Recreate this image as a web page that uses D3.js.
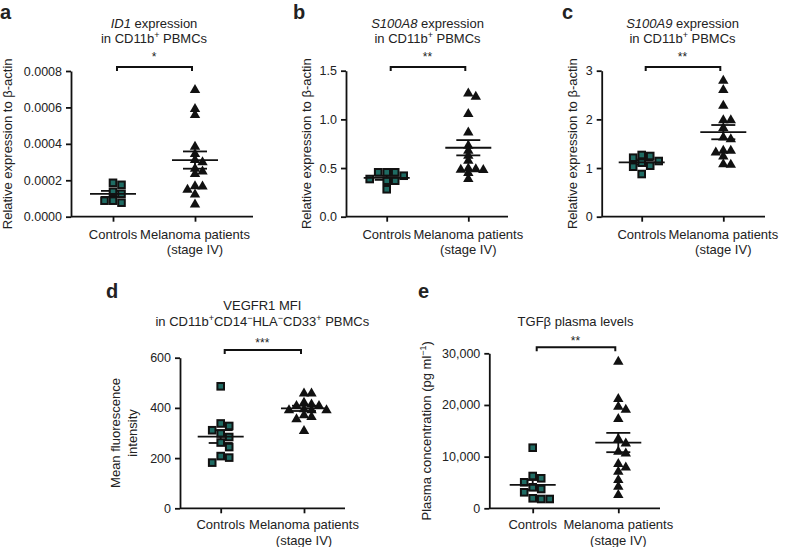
<!DOCTYPE html>
<html>
<head>
<meta charset="utf-8">
<script src="https://cdn.jsdelivr.net/npm/d3@7"></script>
<style>
body{margin:0;background:#fff;}
text{font-family:"Liberation Sans",Arial,sans-serif;fill:#222;}
</style>
</head>
<body>
<script>
// values
const categories = ["Controls", "Melanoma patients"];
const categoryLines = [["Controls"], ["Melanoma patients", "(stage IV)"]];

const id1Controls = [0.000186, 0.000175, 0.000137, 0.000126, 0.000088, 0.000077, 0.000088];
const id1Melanoma = [0.00070, 0.000596, 0.000563, 0.000389, 0.000349, 0.000316, 0.000303, 0.000267, 0.000252, 0.000239, 0.000172, 0.00017, 0.000152, 0.000126, 0.000071];

const s100a8Controls = [0.456, 0.456, 0.456, 0.421, 0.387, 0.37, 0.37, 0.282];
const s100a8Melanoma = [1.274, 1.24, 1.063, 0.874, 0.737, 0.686, 0.634, 0.583, 0.504, 0.497, 0.49, 0.487, 0.456, 0.395];

const s100a9Controls = [1.268, 1.247, 1.212, 1.144, 1.11, 1.048, 1.027, 0.877];
const s100a9Melanoma = [2.81, 2.618, 2.295, 2.0, 2.0, 1.837, 1.644, 1.61, 1.37, 1.37, 1.336, 1.253, 1.096, 1.083];

const vegfrControls = [486, 338, 328, 311, 298, 284, 262, 244, 208, 202, 182];
const vegfrMelanoma = [461, 461, 424, 417, 411, 411, 398, 394, 394, 394, 374, 367, 358, 311];

const tgfControls = [11730, 6251, 5806, 5032, 4064, 3735, 3097, 1935, 1800, 1800];
const tgfMelanoma = [28500, 21290, 19800, 19220, 17420, 13550, 12700, 11090, 10760, 8710, 8050, 7220, 5610, 4320, 2710];

const id1Ticks = [0, 0.0002, 0.0004, 0.0006, 0.0008];
const s100a8Ticks = [0, 0.5, 1.0, 1.5];
const s100a9Ticks = [0, 1, 2, 3];
const vegfrTicks = [0, 200, 400, 600];
const tgfTicks = [0, 10000, 20000, 30000];

const W = 788, H = 547;
const svg = d3.select("body").append("svg").attr("width", W).attr("height", H);

const teal = "#1f6b63";

const panels = [
  {label:"a", lx:0, ly:18.5, x0:71, w:182, off:42, step:82, top:71, bottom:216.7,
   ticks:id1Ticks, fmt:d3.format(".4f"), data:[id1Controls, id1Melanoma], stars:"*",
   title:[[{t:"ID1", i:true},{t:" expression"}],[{t:"in CD11b"},{t:"+", s:true},{t:" PBMCs"}]],
   titleY:[28,43], starY:61, brY:67,
   ylab:[[{t:"Relative expression to β-actin"}]], ylabX:[12], catY:[238.5,254]},
  {label:"b", lx:293, ly:18.5, x0:346, w:162, off:40.7, step:81.6, top:70.7, bottom:216.7,
   ticks:s100a8Ticks, fmt:d3.format(".1f"), data:[s100a8Controls, s100a8Melanoma], stars:"**",
   title:[[{t:"S100A8", i:true},{t:" expression"}],[{t:"in CD11b"},{t:"+", s:true},{t:" PBMCs"}]],
   titleY:[28,43], starY:61, brY:67,
   ylab:[[{t:"Relative expression to β-actin"}]], ylabX:[311], catY:[238.5,254]},
  {label:"c", lx:562, ly:18.5, x0:601.7, w:163.3, off:40, step:81.6, top:70.7, bottom:216.7,
   ticks:s100a9Ticks, fmt:d3.format("d"), data:[s100a9Controls, s100a9Melanoma], stars:"**",
   title:[[{t:"S100A9", i:true},{t:" expression"}],[{t:"in CD11b"},{t:"+", s:true},{t:" PBMCs"}]],
   titleY:[28,43], starY:61, brY:67,
   ylab:[[{t:"Relative expression to β-actin"}]], ylabX:[577], catY:[238.5,254]},
  {label:"d", lx:106, ly:298, x0:180, w:165, off:40.7, step:83.3, top:357.7, bottom:508.3,
   ticks:vegfrTicks, fmt:d3.format("d"), data:[vegfrControls, vegfrMelanoma], stars:"***",
   title:[[{t:"VEGFR1 MFI"}],[{t:"in CD11b"},{t:"+", s:true},{t:"CD14"},{t:"−", s:true},{t:"HLA"},{t:"−", s:true},{t:"CD33"},{t:"+", s:true},{t:" PBMCs"}]],
   titleY:[310,326], starY:347, brY:350,
   ylab:[[{t:"Mean fluorescence"}],[{t:"intensity"}]], ylabX:[119.5,136.5], catY:[528.5,544.5]},
  {label:"e", lx:418, ly:298, x0:489.3, w:170.7, off:43.4, step:85.6, top:353.3, bottom:508.3,
   ticks:tgfTicks, fmt:d3.format(","), data:[tgfControls, tgfMelanoma], stars:"**",
   title:[[{t:"TGFβ plasma levels"}]],
   titleY:[326], starY:345, brY:347.3,
   ylab:[[{t:"Plasma concentration (pg ml"},{t:"−1", s:true},{t:")"}]], ylabX:[431], catY:[528.5,544.5]}
];

function addRich(sel, segs){
  segs.forEach(function(s){
    const ts = sel.append("tspan").text(s.t);
    if(s.i) ts.attr("font-style","italic");
    if(s.s) ts.attr("font-size", 9).attr("baseline-shift", "super");
  });
}

// simple dodge so points at similar heights spread sideways
function dodge(values, y, cx, step, dxMin, dyMin){
  const placed = [];
  values.forEach(function(v){
    const py = y(v);
    for(let k = 0; k < 60; k++){
      const o = (k % 2 ? 1 : -1) * Math.ceil(k/2) * step;
      const px = cx + o;
      const hit = placed.some(p => Math.abs(p.x - px) < dxMin && Math.abs(p.y - py) < dyMin);
      if(!hit){ placed.push({x:px, y:py, v:v}); break; }
    }
  });
  return placed;
}

panels.forEach(function(p){
  const g = svg.append("g");
  const y = d3.scaleLinear().domain([0, d3.max(p.ticks)]).range([p.bottom, p.top]);
  const x = d3.scalePoint().domain(categories).range([p.x0 + p.off, p.x0 + p.off + p.step]);
  const mid = (x(categories[0]) + x(categories[1]))/2;

  g.append("text").attr("x", p.lx).attr("y", p.ly)
    .attr("font-size", 20).attr("font-weight", "bold").attr("fill", "#000").text(p.label);

  p.title.forEach(function(line, i){
    const t = g.append("text").attr("x", mid).attr("y", p.titleY[i])
      .attr("text-anchor", "middle").attr("font-size", 13);
    addRich(t, line);
  });

  g.append("text").attr("x", mid).attr("y", p.starY).attr("text-anchor", "middle")
    .attr("font-size", 12).text(p.stars);
  const xl = x(categories[0]) + 4, xr = x(categories[1]) - 3;
  g.append("path").attr("d", `M${xl},${p.brY+4}V${p.brY}H${xr}V${p.brY+4}`)
    .attr("fill", "none").attr("stroke", "#111").attr("stroke-width", 2);

  // y axis
  const ya = g.append("g").attr("transform", `translate(${p.x0},0)`)
    .call(d3.axisLeft(y).tickValues(p.ticks).tickFormat(p.fmt).tickSize(5).tickSizeOuter(0).tickPadding(4));
  ya.selectAll("text").attr("font-size", 12.5).attr("fill", "#222");
  ya.selectAll("line,path").attr("stroke", "#111").attr("stroke-width", 1.8);

  // x axis
  const xa = g.append("g").attr("transform", `translate(0,${p.bottom})`)
    .call(d3.axisBottom(x).tickSize(5).tickSizeOuter(0).tickFormat(""));
  xa.select(".domain").attr("d", `M${p.x0},0H${p.x0 + p.w}`);
  xa.selectAll("line,path").attr("stroke", "#111").attr("stroke-width", 1.8);

  categories.forEach(function(c, ci){
    categoryLines[ci].forEach(function(s, li){
      g.append("text").attr("x", x(c)).attr("y", p.catY[li])
        .attr("text-anchor", "middle").attr("font-size", 13).text(s);
    });
  });

  // y label
  const yc = (p.top + p.bottom)/2;
  p.ylab.forEach(function(line, i){
    const t = g.append("text").attr("transform", `translate(${p.ylabX[i]},${yc}) rotate(-90)`)
      .attr("text-anchor", "middle").attr("font-size", 13);
    addRich(t, line);
  });

  // points, mean and SEM
  p.data.forEach(function(vals, ci){
    const cx = x(categories[ci]);
    const m = d3.mean(vals);
    const sem = d3.deviation(vals) / Math.sqrt(vals.length);
    const lines = g.append("g").attr("stroke", "#111").attr("stroke-width", 1.8);
    lines.append("line").attr("x1", cx).attr("x2", cx).attr("y1", y(m - sem)).attr("y2", y(m + sem));
    [m - sem, m + sem].forEach(function(v){
      lines.append("line").attr("x1", cx - 12).attr("x2", cx + 12).attr("y1", y(v)).attr("y2", y(v));
    });
    if(ci === 0){
      const pts = dodge(vals, y, cx, 4.25, 8.5, 7);
      g.append("g").selectAll("rect").data(pts).join("rect")
        .attr("x", d => d.x - 3.3).attr("y", d => d.y - 3.3)
        .attr("width", 6.6).attr("height", 6.6)
        .attr("fill", teal).attr("stroke", "#111").attr("stroke-width", 2);
    } else {
      const pts = dodge(vals, y, cx, 3.75, 7.5, 4.5);
      g.append("g").selectAll("path").data(pts).join("path")
        .attr("d", d => `M${d.x},${d.y-5.2}L${d.x+5.2},${d.y+3.8}L${d.x-5.2},${d.y+3.8}Z`)
        .attr("fill", "#111");
    }
    g.append("line").attr("x1", cx - 23).attr("x2", cx + 23).attr("y1", y(m)).attr("y2", y(m))
      .attr("stroke", "#111").attr("stroke-width", 1.8);
  });
});
</script>
</body>
</html>
